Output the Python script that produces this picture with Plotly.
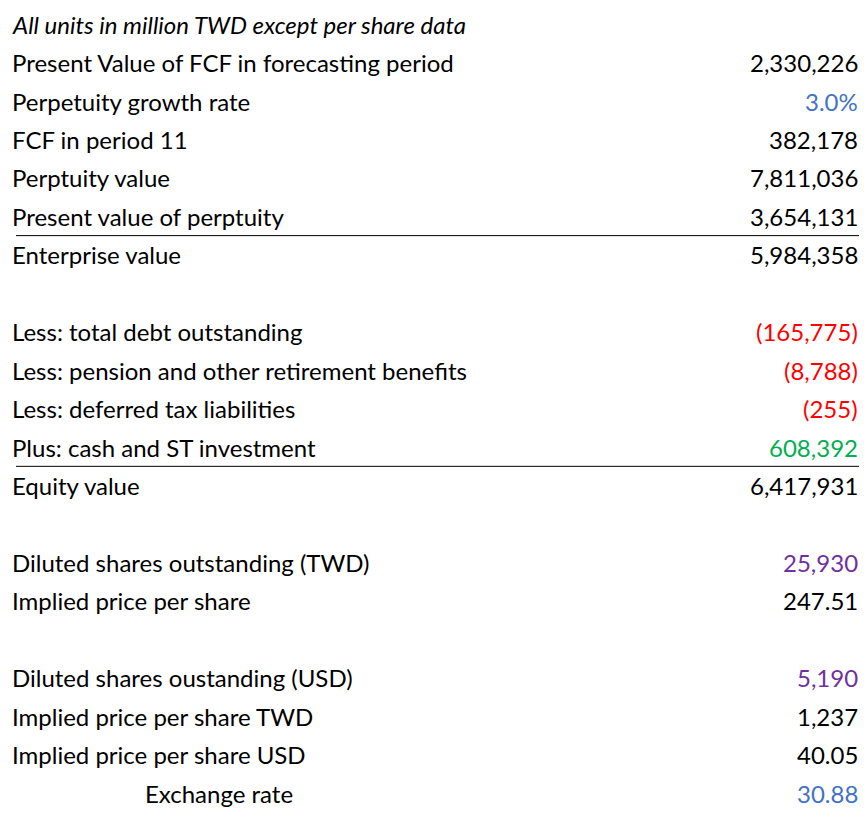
import plotly.graph_objects as go

# Rows of the DCF summary (None = blank spacer row)
labels = [
    "<i>All units in million TWD except per share data</i>",
    "Present Value of FCF in forecasting period",
    "Perpetuity growth rate",
    "FCF in period 11",
    "Perptuity value",
    "Present value of perptuity",
    "Enterprise value",
    None,
    "Less: total debt outstanding",
    "Less: pension and other retirement benefits",
    "Less: deferred tax liabilities",
    "Plus: cash and ST investment",
    "Equity value",
    None,
    "Diluted shares outstanding (TWD)",
    "Implied price per share",
    None,
    "Diluted shares oustanding (USD)",
    "Implied price per share TWD",
    "Implied price per share USD",
    "Exchange rate",
]
values = [
    "", "2,330,226", "3.0%", "382,178", "7,811,036", "3,654,131", "5,984,358",
    None, "(165,775)", "(8,788)", "(255)", "608,392", "6,417,931",
    None, "25,930", "247.51", None, "5,190", "1,237", "40.05", "30.88",
]
BLK, BLUE, RED, GREEN, PURPLE = "#000000", "#4472C4", "#FF0000", "#00B050", "#7030A0"
value_colors = [
    BLK, BLK, BLUE, BLK, BLK, BLK, BLK,
    BLK, RED, RED, RED, GREEN, BLK,
    BLK, PURPLE, BLK, BLK, PURPLE, BLK, BLK, BLUE,
]
rules_after = [5, 11]  # thin line below these rows

fig = go.Figure()
font = dict(family="Lato, Open Sans, sans-serif", size=24, color=BLK)

for i, (lab, val, col) in enumerate(zip(labels, values, value_colors)):
    if lab is None:
        continue
    x_lab = 135 if lab == "Exchange rate" else 2
    fig.add_annotation(x=x_lab, y=i, text=lab, xanchor="left", showarrow=False, font=font)
    if val:
        fig.add_annotation(x=852, y=i, text=val, xanchor="right", showarrow=False,
                           font=dict(font, color=col))

for r in rules_after:
    fig.add_shape(type="line", x0=8, x1=853, y0=r + 0.5, y1=r + 0.5,
                  line=dict(color="#000000", width=1))

fig.update_xaxes(range=[0, 867], visible=False)
fig.update_yaxes(range=[21.01, -0.42], visible=False)
fig.update_layout(width=867, height=824, margin=dict(l=0, r=0, t=0, b=0),
                  plot_bgcolor="white", paper_bgcolor="white", showlegend=False)
fig.write_html("out.html")
